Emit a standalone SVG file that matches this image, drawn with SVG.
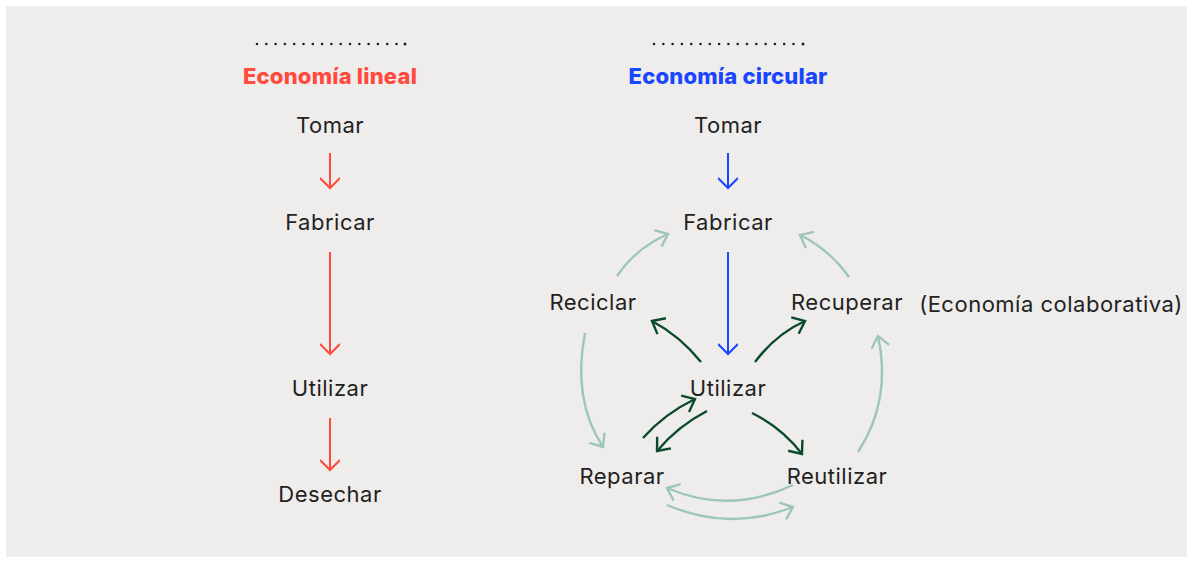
<svg xmlns="http://www.w3.org/2000/svg" width="1187" height="561" viewBox="0 0 1187 561">
<style>
.t{font-family:Inter,"Open Sans","Liberation Sans",sans-serif;font-size:22px;letter-spacing:0.5px;fill:#222;text-anchor:middle;dominant-baseline:central}
.h{font-family:Inter,"Open Sans","Liberation Sans",sans-serif;font-size:22px;letter-spacing:0.2px;font-weight:800;text-anchor:middle;dominant-baseline:central}
.dots{stroke:#222;stroke-width:2.6;stroke-linecap:round;stroke-dasharray:0 9.3;fill:none}
.red{stroke:#FF4A3D;stroke-width:2;fill:none;marker-end:url(#mr)}
.blue{stroke:#1A46FF;stroke-width:2;fill:none;marker-end:url(#mb)}
.dg{stroke:#0B4A30;stroke-width:2.4;fill:none;marker-end:url(#md)}
.lg{stroke:#9CC6BC;stroke-width:2.4;fill:none;marker-end:url(#ml)}
</style>
<defs>
<marker id="mr" markerUnits="userSpaceOnUse" viewBox="-12 -10 14 20" markerWidth="14" markerHeight="20" refX="0" refY="0" orient="auto"><path d="M-10,-10 L0,0 L-10,10" fill="none" stroke="#FF4A3D" stroke-width="2"/></marker>
<marker id="mb" markerUnits="userSpaceOnUse" viewBox="-12 -10 14 20" markerWidth="14" markerHeight="20" refX="0" refY="0" orient="auto"><path d="M-10,-10 L0,0 L-10,10" fill="none" stroke="#1A46FF" stroke-width="2"/></marker>
<marker id="md" markerUnits="userSpaceOnUse" viewBox="-14 -12 16 24" markerWidth="16" markerHeight="24" refX="0" refY="0" orient="auto"><path d="M-11,-9 L0,0 L-11,9" fill="none" stroke="#0B4A30" stroke-width="2.4"/></marker>
<marker id="ml" markerUnits="userSpaceOnUse" viewBox="-14 -12 16 24" markerWidth="16" markerHeight="24" refX="0" refY="0" orient="auto"><path d="M-11,-9 L0,0 L-11,9" fill="none" stroke="#9CC6BC" stroke-width="2.4"/></marker>
</defs>
<rect x="0" y="0" width="1187" height="561" fill="#fff"/>
<rect x="6" y="6" width="1181" height="551" fill="#EFEDEB"/>

<g id="dots">
<line class="dots" x1="257" y1="44" x2="397" y2="44"/>
<circle cx="405" cy="44" r="1.5" fill="#222"/>
<line class="dots" x1="654" y1="44" x2="794" y2="44"/>
<circle cx="803" cy="44" r="1.5" fill="#222"/>
</g>

<g id="title-lineal"><text class="h" x="330" y="76" fill="#FF4A3D">Economía lineal</text></g>
<g id="title-circular"><text class="h" x="728" y="76" fill="#1A46FF">Economía circular</text></g>

<g id="l-tomar"><text class="t" x="330" y="125">Tomar</text></g>
<g id="l-fabricar"><text class="t" x="330" y="222">Fabricar</text></g>
<g id="l-utilizar"><text class="t" x="330" y="388">Utilizar</text></g>
<g id="l-desechar"><text class="t" x="330" y="494">Desechar</text></g>

<g id="c-tomar"><text class="t" x="728" y="125">Tomar</text></g>
<g id="c-fabricar"><text class="t" x="728" y="222">Fabricar</text></g>
<g id="c-reciclar"><text class="t" x="593" y="302">Reciclar</text></g>
<g id="c-recuperar"><text class="t" x="847" y="302">Recuperar</text></g>
<g id="c-colab"><text class="t" x="1051" y="304">(Economía colaborativa)</text></g>
<g id="c-utilizar"><text class="t" x="728" y="388">Utilizar</text></g>
<g id="c-reparar"><text class="t" x="622" y="476">Reparar</text></g>
<g id="c-reutilizar"><text class="t" x="837" y="476">Reutilizar</text></g>

<g id="connectors">
<line class="red" x1="330" y1="153" x2="330" y2="188"/>
<line class="red" x1="330" y1="252" x2="330" y2="354"/>
<line class="red" x1="330" y1="418" x2="330" y2="470"/>
<line class="blue" x1="728" y1="153" x2="728" y2="188"/>
<line class="blue" x1="728" y1="252" x2="728" y2="354"/>

<path class="dg" d="M701,362 Q680,336 652,321"/>
<path class="dg" d="M755,362 Q776,334 805,321"/>
<path class="dg" d="M752,413 Q782,428 802,454"/>
<path class="dg" d="M643,438 Q664,414 695,399"/>
<path class="dg" d="M707,411 Q678,426 657,451"/>

<path class="lg" d="M617,276 Q636,248 668,234"/>
<path class="lg" d="M849,277 Q830,250 800,235"/>
<path class="lg" d="M585,333 Q572,400 603,447"/>
<path class="lg" d="M858,452 Q892,400 878,336"/>
<path class="lg" d="M793,485 Q730,515 667,488"/>
<path class="lg" d="M667,505 Q730,532 793,507"/>
</g>
</svg>
